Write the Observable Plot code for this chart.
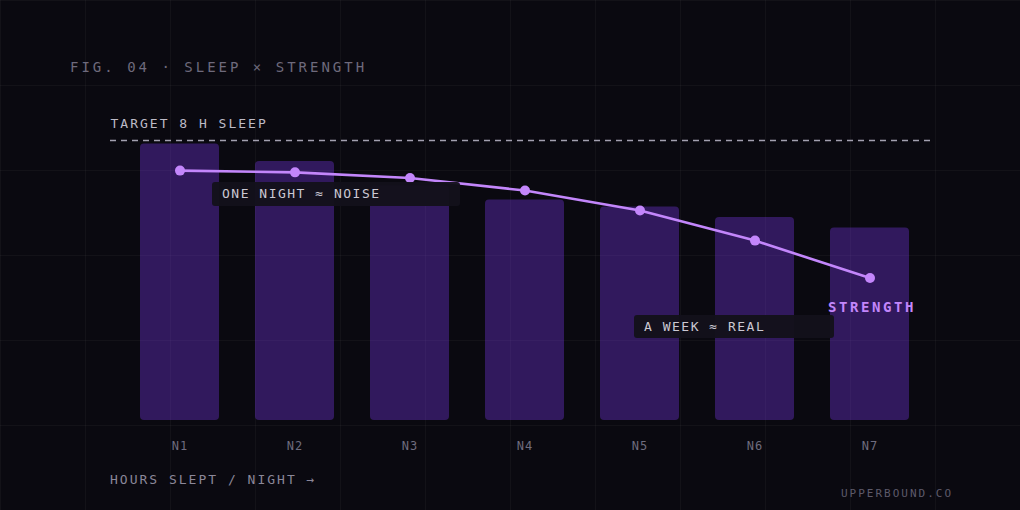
<!DOCTYPE html>
<html>
<head>
<meta charset="utf-8">
<script src="https://cdn.jsdelivr.net/npm/d3@7"></script>
<script src="https://cdn.jsdelivr.net/npm/@observablehq/plot@0.6"></script>
<style>
  html, body { margin: 0; padding: 0; background: #0a0910; }
  #page {
    position: relative; width: 1020px; height: 510px; overflow: hidden;
    background-color: #0a0910;
    background-image:
      linear-gradient(to right, rgba(255,255,255,0.035) 1px, transparent 1px),
      linear-gradient(to bottom, rgba(255,255,255,0.035) 1px, transparent 1px);
    background-size: 85px 85px;
    font-family: "DejaVu Sans Mono", monospace;
  }
  #chart { position: absolute; left: 0; top: 0; }
  .txt { position: absolute; white-space: nowrap; line-height: 1; }
  .note {
    position: absolute; white-space: nowrap; box-sizing: border-box;
    background: rgba(19,17,27,0.96); border-radius: 3px; padding-left: 10px;
    color: #cbc8d3; font-size: 13px; letter-spacing: 1.5px;
  }
</style>
</head>
<body>
<div id="page">
  <div id="chart"></div>
  <div class="txt" id="title" style="left:70px; top:60px; font-size:14px; letter-spacing:3px; color:#6e6a7c;"></div>
  <div class="txt" id="xlabel" style="left:110px; top:472.5px; font-size:13px; letter-spacing:2px; color:#8b8799;"></div>
  <div class="txt" id="credit" style="right:67px; top:487.5px; font-size:11px; letter-spacing:2px; color:#5d5a6a;"></div>
  <div class="note" id="note1" style="left:212px; top:182px; width:248px; height:24px; line-height:24px;"></div>
  <div class="note" id="note2" style="left:634px; top:315px; width:200px; height:23px; line-height:23px;"></div>
</div>
<script>
// ---- data ----
const nights = ["N1", "N2", "N3", "N4", "N5", "N6", "N7"];
const hoursSlept = [7.9, 7.4, 6.7, 6.3, 6.1, 5.8, 5.5];
// strength index, drawn on the same vertical scale as the bars
const strength = [7.14, 7.09, 6.93, 6.57, 6.0, 5.14, 4.07];
const targetHours = 8;

const titleText = "FIG. 04 · SLEEP × STRENGTH";
const targetLabel = "TARGET 8 H SLEEP";
const seriesLabel = "STRENGTH";
const xAxisLabel = "HOURS SLEPT / NIGHT →";
const creditText = "UPPERBOUND.CO";
const noteNight = "ONE NIGHT ≈ NOISE";
const noteWeek = "A WEEK ≈ REAL";

const data = nights.map((n, i) => ({ night: n, hours: hoursSlept[i], strength: strength[i] }));

const chart = Plot.plot({
  width: 1020,
  height: 510,
  marginLeft: 110,
  marginRight: 85,
  marginTop: 140,
  marginBottom: 90,
  style: { background: "transparent", fontFamily: "'DejaVu Sans Mono', monospace", overflow: "visible" },
  x: { domain: nights, range: [122.5, 927.5], paddingInner: 0.31, paddingOuter: 0.155 },
  y: { domain: [0, 8], axis: null },
  marks: [
    Plot.barY(data, { x: "night", y: "hours", fill: "#7c3aed", fillOpacity: 0.35, rx: 4 }),
    Plot.ruleY([targetHours], { stroke: "#a3a0b0", strokeDasharray: "6,5", strokeWidth: 1.3 }),
    Plot.text([targetHours], {
      y: d => d, frameAnchor: "left", textAnchor: "start", dy: -17,
      text: () => targetLabel, fill: "#bdbac6", fontSize: 13
    }),
    Plot.line(data, { x: "night", y: "strength", stroke: "#c386fb", strokeWidth: 2.6 }),
    Plot.dot(data, { x: "night", y: "strength", r: 5, fill: "#c386fb" }),
    Plot.text(data.slice(-1), {
      x: "night", y: "strength", dy: 29, dx: 2, text: () => seriesLabel,
      fill: "#c386fb", fontSize: 14, fontWeight: "bold"
    }),
    Plot.axisX({ tickSize: 0, tickPadding: 21, fontSize: 12, color: "#6f6c7e", label: null })
  ]
});
document.getElementById("chart").appendChild(chart);

// letter spacing for in-chart labels
const spacing = new Map([[targetLabel, "2px"], [seriesLabel, "2.6px"]]);
d3.select(chart).selectAll("text").each(function () {
  const t = this.textContent;
  if (spacing.has(t)) this.style.letterSpacing = spacing.get(t);
  else if (nights.includes(t)) this.style.letterSpacing = "1px";
});

document.getElementById("title").textContent = titleText;
document.getElementById("xlabel").textContent = xAxisLabel;
document.getElementById("credit").textContent = creditText;
document.getElementById("note1").textContent = noteNight;
document.getElementById("note2").textContent = noteWeek;
</script>
</body>
</html>
